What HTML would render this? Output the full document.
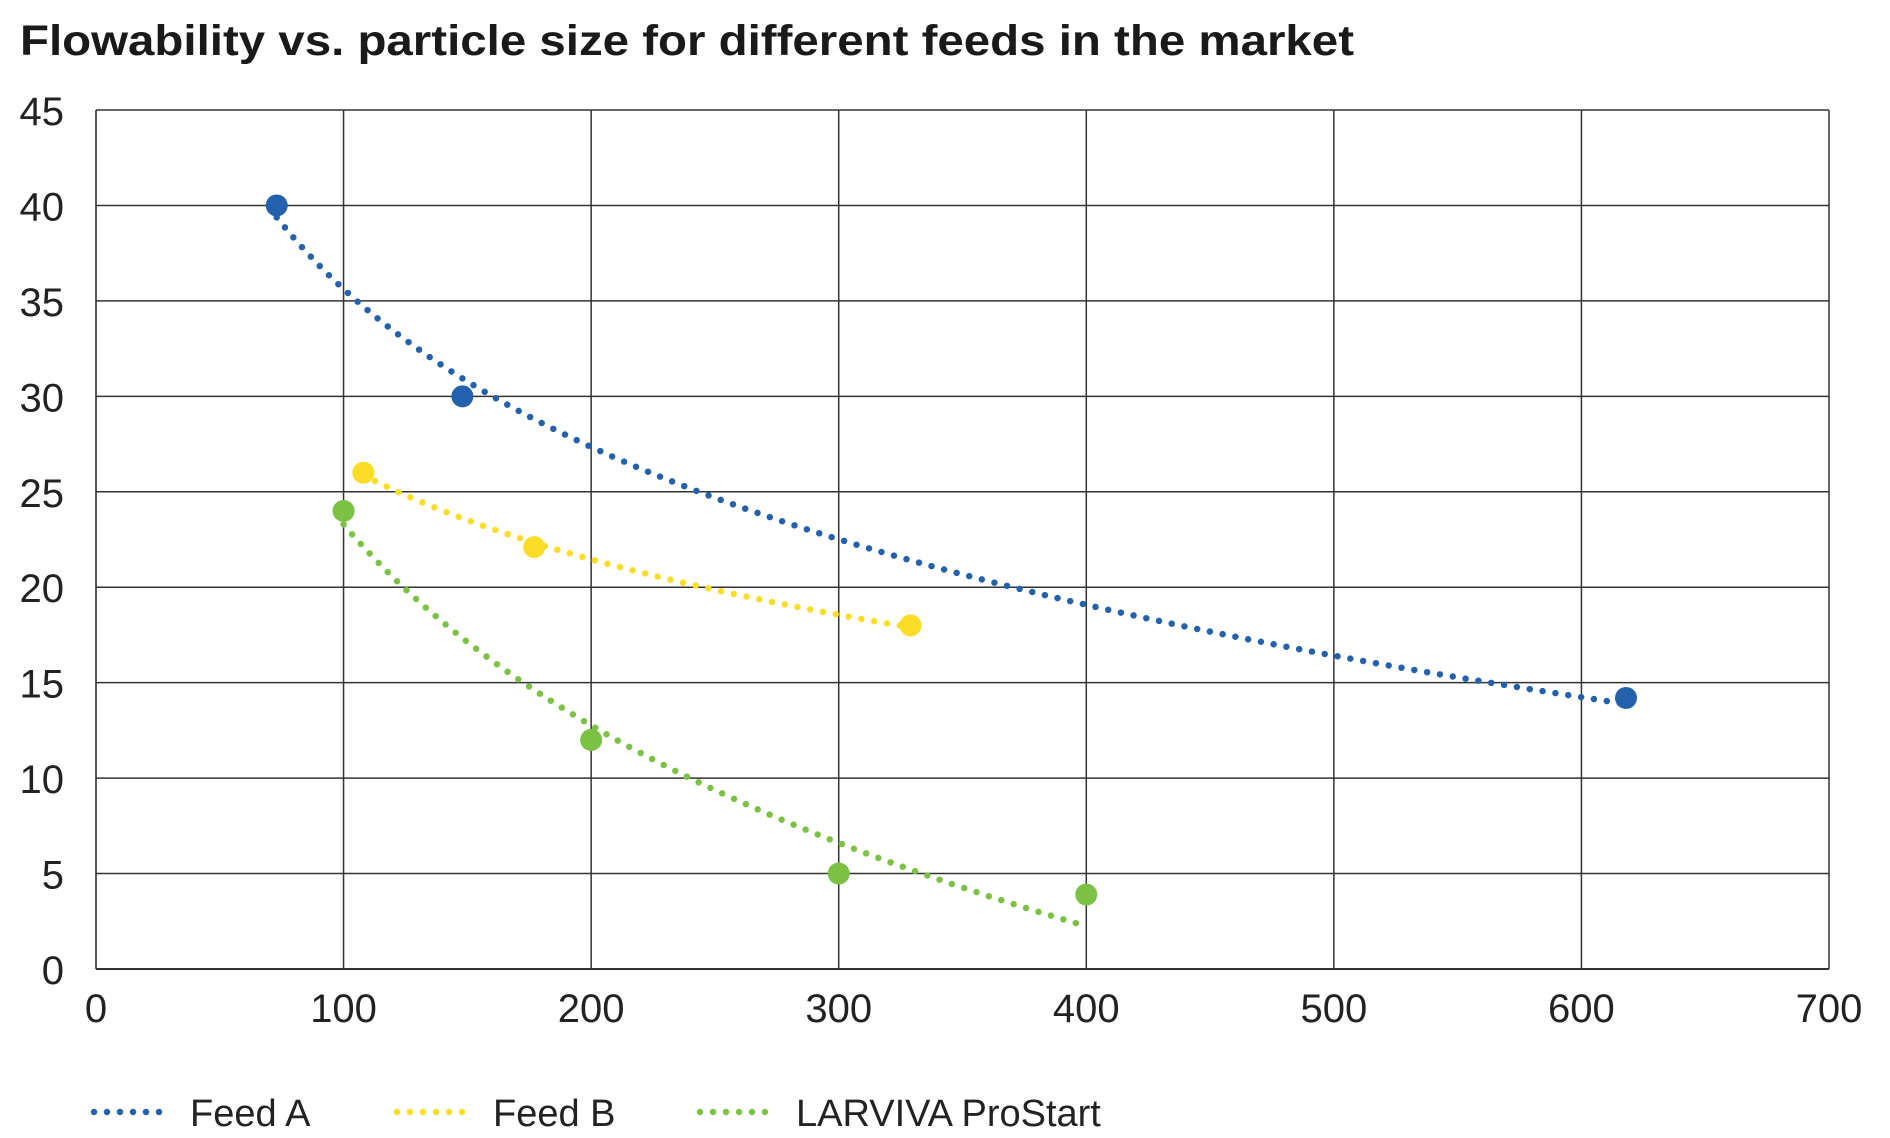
<!DOCTYPE html>
<html><head><meta charset="utf-8"><style>
body{margin:0;background:#fff;}
svg{display:block;font-family:"Liberation Sans",sans-serif;}
</style></head><body>
<svg id="chart" width="1890" height="1138" xmlns="http://www.w3.org/2000/svg">
<text x="20" y="55" font-size="43" font-weight="bold" fill="#1a1a1a" textLength="1334" lengthAdjust="spacingAndGlyphs">Flowability vs. particle size for different feeds in the market</text>
<g id="grid"></g><g id="marks"></g><g id="legend"></g>
</svg>
<script>
const xTicks=[0,100,200,300,400,500,600,700];
const yTicks=[0,5,10,15,20,25,30,35,40,45];
const feedAx=[73,148,618];
const feedAy=[40,30,14.2];
const feedBx=[108,177,329];
const feedBy=[26,22.1,18];
const larvivaX=[100,200,300,400];
const larvivaY=[24,12,5,3.9];
const seriesNames=["Feed A","Feed B","LARVIVA ProStart"];
const L=96,R=1829,T=110,B=969;
const sx=v=>L+(v-0)/(700-0)*(R-L);
const sy=v=>B-(v-0)/(45-0)*(B-T);
const NS="http://www.w3.org/2000/svg";
function mk(tag,attrs,parent){const e=document.createElementNS(NS,tag);for(const k in attrs)e.setAttribute(k,attrs[k]);parent.appendChild(e);return e;}
const grid=document.getElementById('grid');
xTicks.forEach(t=>{
 const l=mk('line',{x1:sx(t),x2:sx(t),y1:T,y2:B,stroke:t===0?'#222':'#333','stroke-width':1.5},grid);
 
 
 const tx=mk('text',{x:sx(t),y:1022,'font-size':40,fill:'#222','text-anchor':'middle'},grid);
 tx.textContent=t;
 
 
});
yTicks.forEach(t=>{
 const l=mk('line',{x1:L,x2:R,y1:sy(t),y2:sy(t),stroke:'#333','stroke-width':t===0?2:1.5},grid);
 
 
 const tx=mk('text',{x:64,y:sy(t)+15,'font-size':40,fill:'#222','text-anchor':'end'},grid);
 tx.textContent=t;
 
 
});
const marks=document.getElementById('marks');
function logFit(xs,ys){const lx=xs.map(Math.log);const n=xs.length;const mx=lx.reduce((a,b)=>a+b)/n,my=ys.reduce((a,b)=>a+b)/n;let sxy=0,sxx=0;for(let i=0;i<n;i++){sxy+=(lx[i]-mx)*(ys[i]-my);sxx+=(lx[i]-mx)**2;}const b=sxy/sxx;return x=>my+b*(Math.log(x)-mx);}
function series(xs,ys,color,name){
 const f=logFit(xs,ys);const x0=Math.min(...xs),x1=Math.max(...xs);let d='';
 for(let i=0;i<=100;i++){const x=x0+(x1-x0)*i/100;d+=(i?'L':'M')+sx(x).toFixed(1)+' '+sy(f(x)).toFixed(1);}
 const p=mk('path',{d:d,fill:'none',stroke:color,'stroke-width':6.5,'stroke-linecap':'round','stroke-dasharray':'0 13'},marks);
 
 
 xs.forEach((x,i)=>{const c=mk('circle',{cx:sx(x),cy:sy(ys[i]),r:11,fill:color},marks);
 
 });
}
const colors=['#2461ad','#fbdc26','#7bc143'];
series(feedAx,feedAy,colors[0],'feed-a');
series(feedBx,feedBy,colors[1],'feed-b');
series(larvivaX,larvivaY,colors[2],'larviva-prostart');
const lg=document.getElementById('legend');
const lx=[94,397,700];
seriesNames.forEach((n,i)=>{
 const g=mk('g',{},lg);
 
 
 mk('line',{x1:lx[i],x2:lx[i]+68,y1:1112,y2:1112,stroke:colors[i],'stroke-width':6.5,'stroke-linecap':'round','stroke-dasharray':'0 13'},g);
 const t=mk('text',{x:lx[i]+96,y:1126,'font-size':38,fill:'#222'},g);
 t.textContent=n;
});
</script>
</body></html>
